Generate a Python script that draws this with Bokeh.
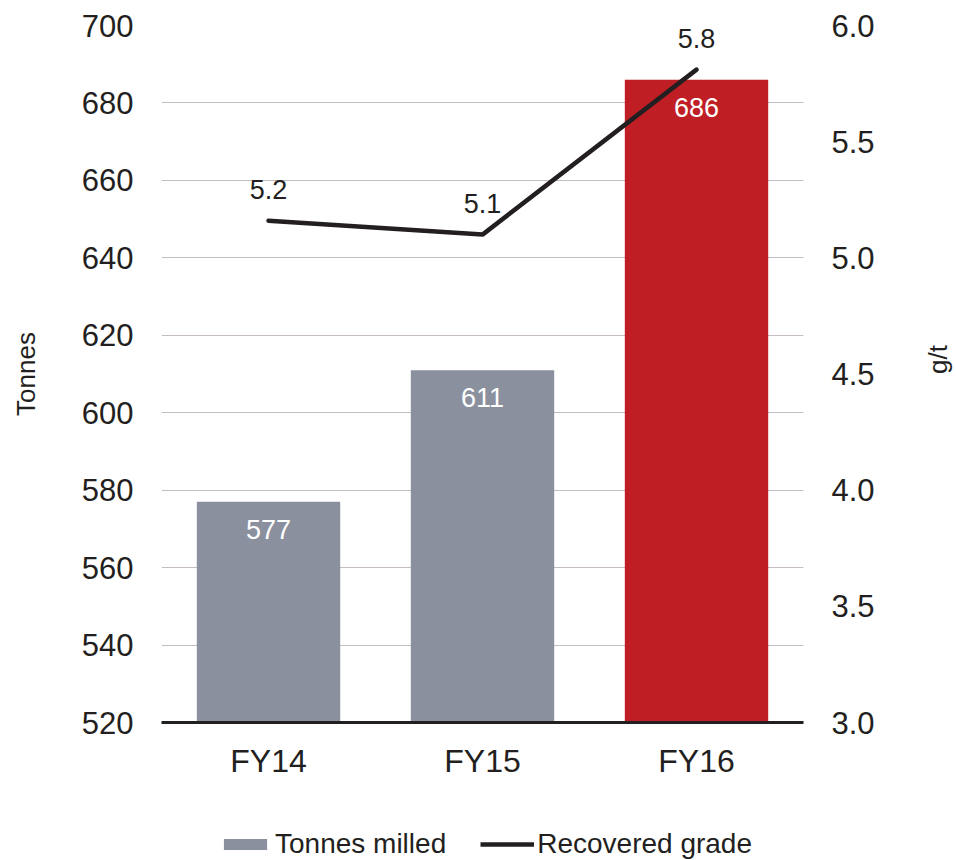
import math
from bokeh.plotting import figure
from bokeh.layouts import column
from bokeh.models import (FactorRange, Range1d, LinearAxis, ColumnDataSource, LabelSet,
                          Legend, LegendItem, FixedTicker, NumeralTickFormatter)
from bokeh.core.properties import value
from bokeh.embed import file_html
from bokeh.resources import INLINE

categories = ["FY14", "FY15", "FY16"]
tonnes = [577, 611, 686]
grade = [5.16, 5.10, 5.81]
grade_labels = ["5.2", "5.1", "5.8"]
bar_colors = ["#8a909e", "#8a909e", "#be1e24"]
left_ticks = [520, 540, 560, 580, 600, 620, 640, 660, 680, 700]
right_ticks = [3.0, 3.5, 4.0, 4.5, 5.0, 5.5, 6.0]
series_names = ["Tonnes milled", "Recovered grade"]

FONT = "Liberation Sans"
TXT = "#231f20"
GREY = "#8a909e"

p = figure(x_range=FactorRange(*categories, range_padding=0.0),
           y_range=Range1d(520, 700),
           frame_width=642, frame_height=697, output_backend="svg", toolbar_location=None,
           min_border_left=161, min_border_right=153, min_border_top=25, min_border_bottom=96)
p.outline_line_color = None
p.background_fill_color = "white"
p.border_fill_color = "white"
p.x_range.range_padding = 0.0
p.extra_y_ranges = {"grade": Range1d(3.0, 6.0)}

src = ColumnDataSource(dict(cat=categories, tonnes=tonnes, colors=bar_colors,
                            tl=[str(v) for v in tonnes], grade=grade, gl=grade_labels))

p.vbar(x="cat", top="tonnes", bottom=520, width=0.67, fill_color="colors",
       line_color=None, source=src)
p.line(x="cat", y="grade", y_range_name="grade", line_color=TXT, line_width=4.5,
       line_cap="round", source=src)

p.add_layout(LabelSet(x="cat", y="tonnes", text="tl", source=src, text_align="center",
                      text_baseline="top", y_offset=-18, text_color="white",
                      text_font=value(FONT), text_font_size="27px"))
p.add_layout(LabelSet(x="cat", y="grade", y_range_name="grade", text="gl", source=src,
                      text_align="center", text_baseline="bottom", y_offset=22,
                      text_color=TXT, text_font=value(FONT), text_font_size="27px"))

# grid
p.xgrid.grid_line_color = None
p.ygrid.ticker = FixedTicker(ticks=left_ticks)
p.ygrid.grid_line_color = "#c4bcc0"
p.ygrid.grid_line_width = 1

# x axis
xa = p.xaxis[0]
xa.axis_line_color = TXT
xa.axis_line_width = 3
xa.major_tick_line_color = None
xa.minor_tick_line_color = None
xa.major_label_text_font = FONT
xa.major_label_text_font_size = "32px"
xa.major_label_text_color = TXT
xa.major_label_standoff = 14

# left axis
ya = p.yaxis[0]
ya.ticker = FixedTicker(ticks=left_ticks)
ya.axis_line_color = None
ya.major_tick_line_color = None
ya.minor_tick_line_color = None
ya.major_label_text_font = FONT
ya.major_label_text_font_size = "31px"
ya.major_label_text_color = TXT
ya.major_label_standoff = 22
ya.axis_label = "Tonnes"
ya.axis_label_text_font = FONT
ya.axis_label_text_font_size = "26px"
ya.axis_label_text_font_style = "normal"
ya.axis_label_text_color = TXT
ya.axis_label_standoff = 38

# right axis
ra = LinearAxis(y_range_name="grade", ticker=FixedTicker(ticks=right_ticks),
                formatter=NumeralTickFormatter(format="0.0"))
ra.axis_line_color = None
ra.major_tick_line_color = None
ra.minor_tick_line_color = None
ra.major_label_text_font = FONT
ra.major_label_text_font_size = "31px"
ra.major_label_text_color = TXT
ra.major_label_standoff = 22
ra.axis_label = "g/t"
ra.axis_label_orientation = math.pi / 2
ra.axis_label_text_font = FONT
ra.axis_label_text_font_size = "26px"
ra.axis_label_text_font_style = "normal"
ra.axis_label_text_color = TXT
ra.axis_label_standoff = 60
p.add_layout(ra, "right")

# legend strip below the chart (its frame is aligned with the chart's frame)
lg = figure(width=956, height=42, x_range=Range1d(0, 1), y_range=Range1d(0, 1),
            output_backend="svg", toolbar_location=None,
            x_axis_location=None, y_axis_location=None,
            min_border_left=0, min_border_right=0, min_border_top=0, min_border_bottom=0)
lg.outline_line_color = None
lg.grid.grid_line_color = None
offscreen = ColumnDataSource(dict(x=[-10], y=[-10]))
r_bar = lg.vbar(x="x", top="y", width=0.1, fill_color=GREY, line_color=None, source=offscreen)
r_line = lg.line(x="x", y="y", line_color=TXT, line_width=4.5, source=offscreen)
legend = Legend(items=[LegendItem(label=series_names[0], renderers=[r_bar]),
                       LegendItem(label=series_names[1], renderers=[r_line])],
                orientation="horizontal", location=(57, 0),
                label_text_font=FONT, label_text_font_size="28px", label_text_color=TXT,
                glyph_width=54, glyph_height=14, label_standoff=3, spacing=34,
                padding=0, margin=0, border_line_color=None, background_fill_alpha=0)
lg.add_layout(legend, "center")

layout = column(p, lg, spacing=0)
open("out.html", "w").write(file_html(layout, INLINE))
